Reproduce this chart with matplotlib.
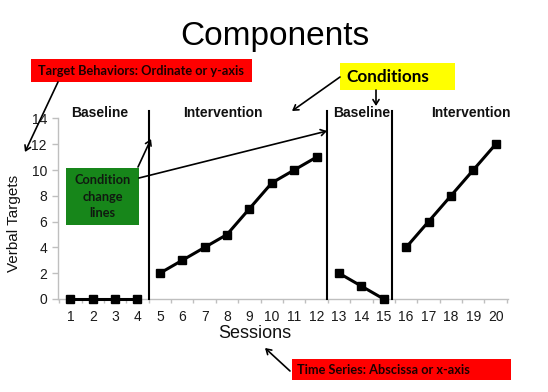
import matplotlib
matplotlib.use("Agg")
import matplotlib.pyplot as plt
from matplotlib.patches import Rectangle, FancyArrowPatch
from matplotlib.ticker import FixedLocator

# ---- data ----
baseline1_sessions = [1, 2, 3, 4]
baseline1_values = [0, 0, 0, 0]
intervention1_sessions = [5, 6, 7, 8, 9, 10, 11, 12]
intervention1_values = [2, 3, 4, 5, 7, 9, 10, 11]
baseline2_sessions = [13, 14, 15]
baseline2_values = [2, 1, 0]
intervention2_sessions = [16, 17, 18, 19, 20]
intervention2_values = [4, 6, 8, 10, 12]
phase_change_positions = [4.5, 12.45, 15.35]
phase_labels = ["Baseline", "Intervention", "Baseline", "Intervention"]
phase_label_x = [2.32, 7.82, 14.0, 18.9]
x_ticks = list(range(1, 21))
y_ticks = list(range(0, 15, 2))

W, H = 548, 392
fig = plt.figure(figsize=(W / 100, H / 100), dpi=100)
fig.patch.set_facecolor("white")

def fx(x):
    return x / W

def fy(y):
    return 1 - y / H

ax_left, ax_right, ax_top, ax_bottom = 58, 508, 118.4, 299
ax = fig.add_axes([fx(ax_left), fy(ax_bottom), (ax_right - ax_left) / W, (ax_bottom - ax_top) / H])

ARIAL = "Liberation Sans"
CAL = "Lato"

for xs, ys in [(baseline1_sessions, baseline1_values), (intervention1_sessions, intervention1_values),
               (baseline2_sessions, baseline2_values), (intervention2_sessions, intervention2_values)]:
    ax.plot(xs, ys, color="black", lw=2.2, marker="s", markersize=5.8, clip_on=False, zorder=4)

for xp in phase_change_positions:
    ax.plot([xp, xp], [0, 14.55], color="black", lw=1.5, clip_on=False, zorder=3)

for lbl, lx in zip(phase_labels, phase_label_x):
    ax.text(lx, 14.45, lbl, ha="center", va="center", fontsize=10, fontweight="bold",
            family=ARIAL, color="#111111")

ax.set_xlim(0.45, 20.55)
ax.set_ylim(0, 14)
ax.xaxis.set_major_locator(FixedLocator(x_ticks))
ax.xaxis.set_minor_locator(FixedLocator([i + 0.5 for i in range(0, 21)]))
ax.yaxis.set_major_locator(FixedLocator(y_ticks))
for s in ["top", "right"]:
    ax.spines[s].set_visible(False)
for s in ["left", "bottom"]:
    ax.spines[s].set_color("#bfbfbf")
    ax.spines[s].set_linewidth(1.0)
ax.tick_params(axis="x", which="major", length=0, pad=8, labelsize=10, labelcolor="#1a1a1a")
ax.tick_params(axis="x", which="minor", length=3, width=1, color="#bfbfbf")
ax.tick_params(axis="y", which="major", length=4, width=1, color="#bfbfbf", pad=4,
               labelsize=10, labelcolor="#1a1a1a")
for lab in ax.get_xticklabels() + ax.get_yticklabels():
    lab.set_family(ARIAL)

# axis titles
fig.text(fx(255), fy(333), "Sessions", ha="center", va="center", fontsize=13, family=ARIAL, color="#111111")
fig.text(fx(14), fy(223), "Verbal Targets", ha="center", va="center", rotation=90, fontsize=11,
         family=ARIAL, color="#111111")

# title
fig.text(fx(275), fy(36), "Components", ha="center", va="center", fontsize=24, family=ARIAL, color="black")

def box(x0, y0, x1, y1, color):
    fig.patches.append(Rectangle((fx(x0), fy(y1)), (x1 - x0) / W, (y1 - y0) / H,
                                 transform=fig.transFigure, facecolor=color, edgecolor="none", zorder=5))

def arrow(x0, y0, x1, y1):
    fig.add_artist(FancyArrowPatch(
        (fx(x0), fy(y0)), (fx(x1), fy(y1)), transform=fig.transFigure,
        arrowstyle="->,head_length=3.5,head_width=2.2", color="black", lw=1.2,
        shrinkA=0, shrinkB=0, zorder=6))

# red box y-axis
box(31, 59, 252, 82, "#ff0000")
fig.text(fx(38), fy(71), "Target Behaviors: Ordinate or y-axis", ha="left", va="center",
         fontsize=9.15, fontweight="bold", family=CAL, color="#1a0000", zorder=7)
arrow(58, 82, 25, 152)

# yellow box
box(340, 63, 455, 90, "#ffff00")
fig.text(fx(346), fy(77), "Conditions", ha="left", va="center", fontsize=12.3, fontweight="bold",
         family=CAL, color="black", zorder=7)
arrow(340, 77, 292, 111)
arrow(376, 90, 376, 106)

# green box
box(66, 168, 139, 225, "#17861a")
for txt, yy in [("Condition", 180), ("change", 197), ("lines", 213)]:
    fig.text(fx(102.5), fy(yy), txt, ha="center", va="center", fontsize=9.2, fontweight="bold",
             family=CAL, color="#101a10", zorder=7)
arrow(138, 167, 151, 139)
arrow(139, 178, 327, 131)

# red box x-axis
box(292, 359, 511, 380, "#ff0000")
fig.text(fx(297), fy(369.5), "Time Series: Abscissa or x-axis", ha="left", va="center",
         fontsize=9.2, fontweight="bold", family=CAL, color="#1a0000", zorder=7)
arrow(290, 371, 265, 348)

fig.savefig("out.png", dpi=100)
